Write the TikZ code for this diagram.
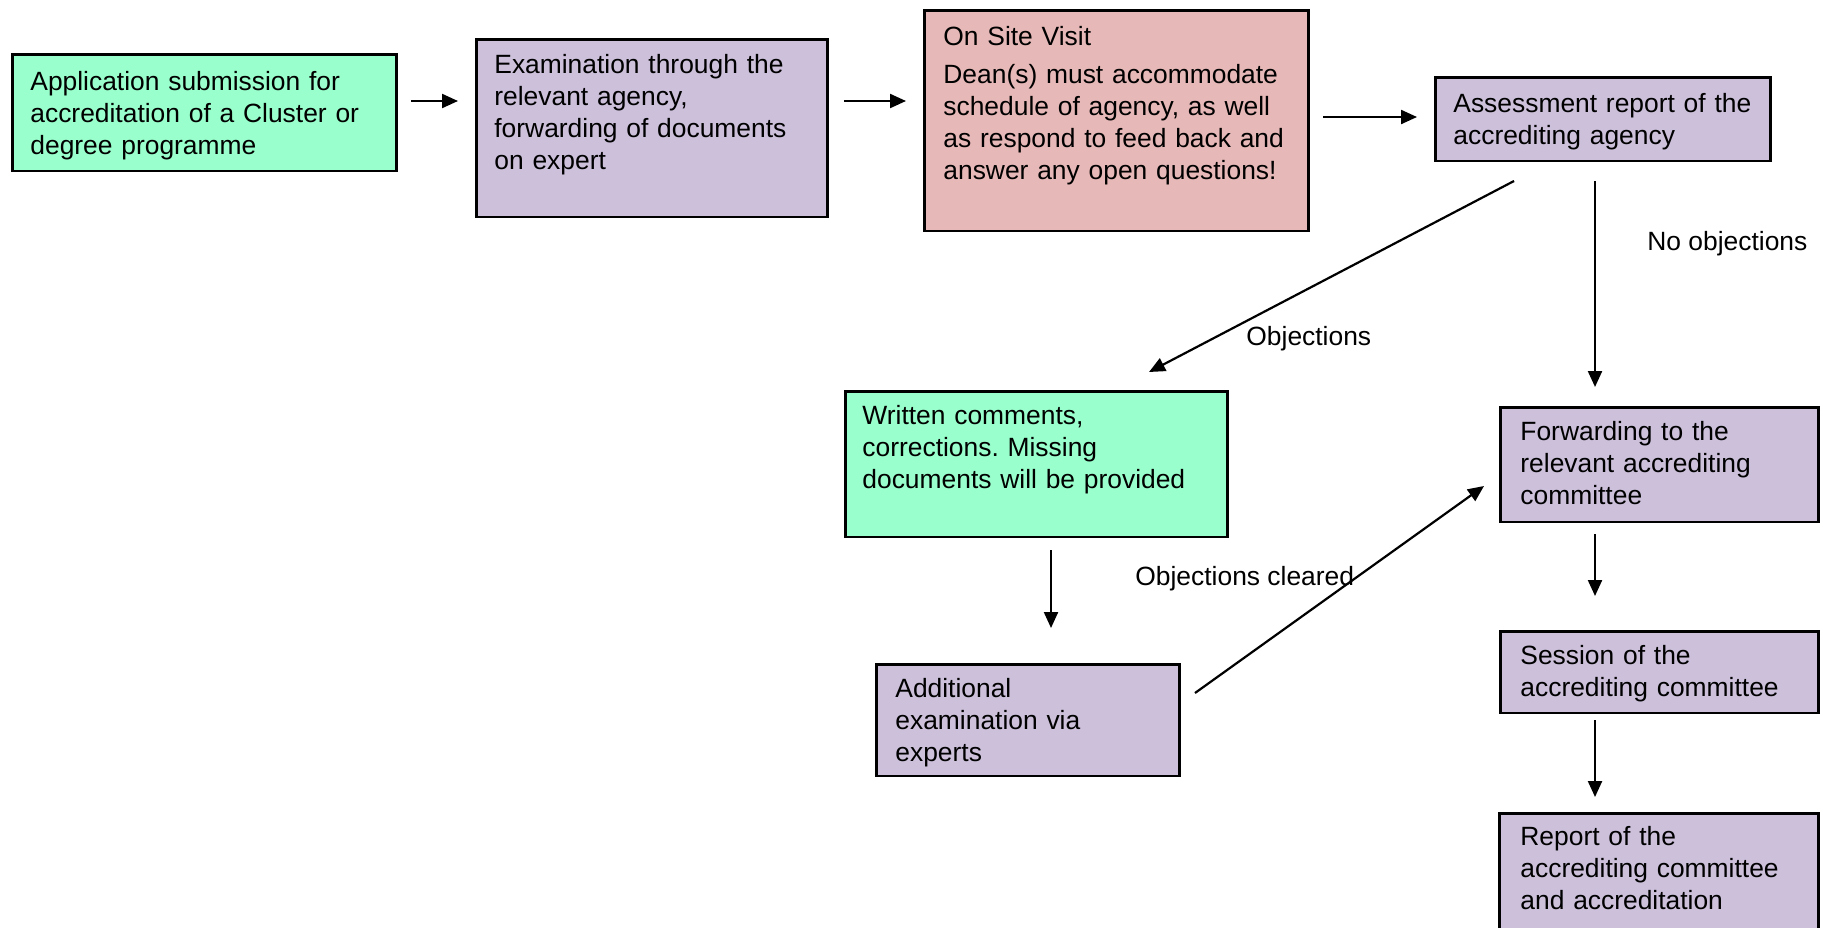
\documentclass[tikz,border=0pt]{standalone}
\usepackage{fontspec}
\setmainfont{Liberation Sans}
\usetikzlibrary{arrows.meta}
\definecolor{boxgreen}{RGB}{153,255,204}
\definecolor{boxpurple}{RGB}{204,192,218}
\definecolor{boxpink}{RGB}{230,184,183}
\frenchspacing
\begin{document}
\begin{tikzpicture}[x=0.5pt,y=-0.5pt,
  box/.style={draw, line width=1.25pt, inner sep=0pt, anchor=north west},
  txt/.style={anchor=base west, inner sep=0pt, align=left, text width=200pt,
    font=\fontsize{13.2}{16}\selectfont},
  lbl/.style={anchor=base west, inner sep=0pt, font=\fontsize{13.2}{16}\selectfont},
  arr/.style={line width=1.1pt, -{Triangle[length=8pt,width=7pt]}}]
\useasboundingbox (0,0) rectangle (1823,927);
% boxes
\node[box, fill=boxgreen,  minimum width=192pt,   minimum height=58.25pt] (b1) at (11,53) {};
\node[box, fill=boxpurple, minimum width=175.5pt, minimum height=88.75pt] (b2) at (475,38) {};
\node[box, fill=boxpink,   minimum width=192pt,   minimum height=110.25pt](b3) at (923,9) {};
\node[box, fill=boxpurple, minimum width=167.5pt, minimum height=41.75pt] (b4) at (1434,76) {};
\node[box, fill=boxgreen,  minimum width=191pt,   minimum height=72.75pt] (b5) at (844,390) {};
\node[box, fill=boxpurple, minimum width=151.5pt, minimum height=55.75pt] (b6) at (875,663) {};
\node[box, fill=boxpurple, minimum width=159pt,   minimum height=57.25pt] (b7) at (1499,406) {};
\node[box, fill=boxpurple, minimum width=159pt,   minimum height=40.75pt] (b8) at (1499,630) {};
\node[box, fill=boxpurple, minimum width=159.5pt, minimum height=65pt]    (b9) at (1498,812) {};
% texts
\node[txt] (t1) at (30,90) {Application submission for\\accreditation of a Cluster or\\degree programme};
\node[txt] (t2) at (494,73) {Examination through the\\relevant agency,\\forwarding of documents\\on expert};
\node[txt] (t3) at (943,45) {On Site Visit\\[3pt]Dean(s) must accommodate\\schedule of agency, as well\\as respond to feed back and\\answer any open questions!};
\node[txt] (t4) at (1453,112) {Assessment report of the\\accrediting agency};
\node[txt] (t5) at (862,424) {Written comments,\\corrections. Missing\\documents will be provided};
\node[txt] (t6) at (895,697) {Additional\\examination via\\experts};
\node[txt] (t7) at (1520,440) {Forwarding to the\\relevant accrediting\\committee};
\node[txt] (t8) at (1520,664) {Session of the\\accrediting committee};
\node[txt] (t9) at (1520,845) {Report of the\\accrediting committee\\and accreditation};
% labels
\node[lbl] (l1) at (1647,250) {No objections};
\node[lbl] (l2) at (1246,345) {Objections};
\node[lbl] (l3) at (1135,585) {Objections cleared};
% connector ends
\coordinate (a1s) at (411,101);  \coordinate (a1e) at (458,101);
\coordinate (a2s) at (844,101);  \coordinate (a2e) at (906,101);
\coordinate (a3s) at (1323,117); \coordinate (a3e) at (1417,117);
\coordinate (a4s) at (1514,181); \coordinate (a4e) at (1149,372);
\coordinate (a5s) at (1595,181); \coordinate (a5e) at (1595,387);
\coordinate (a6s) at (1051,550); \coordinate (a6e) at (1051,628);
\coordinate (a7s) at (1195,693); \coordinate (a7e) at (1484,486);
\coordinate (a8s) at (1595,534); \coordinate (a8e) at (1595,596);
\coordinate (a9s) at (1595,720); \coordinate (a9e) at (1595,797);
\foreach \i in {1,...,9} {\draw[arr] (a\i s) -- (a\i e);}
\end{tikzpicture}
\end{document}
